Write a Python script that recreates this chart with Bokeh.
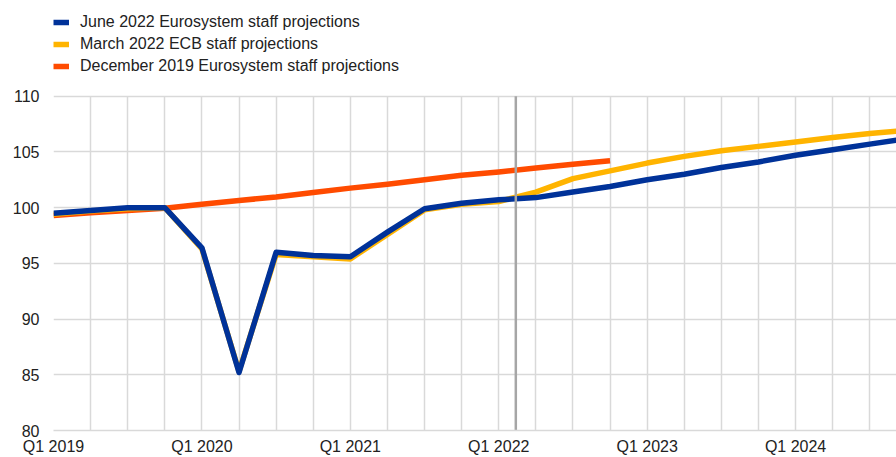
from bokeh.plotting import figure
from bokeh.models import Range1d, FixedTicker, Legend, LegendItem, BoxAnnotation
from bokeh.embed import file_html
from bokeh.resources import INLINE

quarters = [f"Q{q} {y}" for y in range(2019, 2025) for q in range(1, 5)]

june_2022 = [99.5, 99.75, 100.0, 100.0, 96.4, 85.2, 96.0, 95.7, 95.6, 97.8, 99.9, 100.4,
             100.7, 100.9, 101.4, 101.9, 102.5, 103.0, 103.6, 104.1, 104.7, 105.2, 105.7, 106.2]
march_2022 = [99.4, 99.7, 99.9, 100.0, 96.3, 85.3, 95.8, 95.6, 95.4, 97.6, 99.8, 100.3,
              100.55, 101.4, 102.6, 103.3, 104.0, 104.6, 105.1, 105.5, 105.9, 106.3, 106.65, 106.95]
dec_2019 = [99.3, 99.55, 99.75, 99.95, 100.3, 100.65, 100.95, 101.35, 101.75, 102.1, 102.5,
            102.9, 103.2, 103.55, 103.9, 104.2]

cutoff_x = 12.46
y_ticks = [80, 85, 90, 95, 100, 105, 110]

idx = list(range(len(quarters)))
label_ticks = [i for i, q in enumerate(quarters) if q.startswith("Q1")]

FONT = "Liberation Sans"
TXT = "#222222"
GRID = "#d9d9d9"

p = figure(width=896, height=457, output_backend="svg", toolbar_location=None,
           x_range=Range1d(0, 22.72), y_range=Range1d(80, 118.59),
           min_border_left=53, min_border_right=0, min_border_top=0, min_border_bottom=27)
p.outline_line_color = None
p.background_fill_color = "white"

p.xaxis.ticker = FixedTicker(ticks=label_ticks)
p.xaxis.major_label_overrides = {i: quarters[i] for i in label_ticks}
p.xgrid.ticker = FixedTicker(ticks=idx)
p.ygrid.ticker = FixedTicker(ticks=y_ticks)
p.yaxis.ticker = FixedTicker(ticks=y_ticks)

for ax in (p.xaxis[0], p.yaxis[0]):
    ax.major_tick_line_color = None
    ax.minor_tick_line_color = None
    ax.major_tick_out = 0
    ax.major_tick_in = 0
    ax.major_label_text_font = FONT
    ax.major_label_text_font_size = "16px"
    ax.major_label_text_color = TXT
p.xaxis.axis_line_color = GRID
p.xaxis.axis_line_width = 1.5
p.yaxis.axis_line_color = None
p.xaxis.major_label_standoff = 7
p.yaxis.major_label_standoff = 14

p.xgrid.grid_line_color = GRID
p.ygrid.grid_line_color = GRID
p.xgrid.grid_line_width = 1.5
p.ygrid.grid_line_width = 1.5
try:
    p.xgrid.cross_bounds = (y_ticks[0], y_ticks[-1])
except Exception:
    p.add_layout(BoxAnnotation(bottom=110.08, fill_color="white", fill_alpha=1,
                               line_color=None, level="underlay"))

r_dec = p.line(idx[:len(dec_2019)], dec_2019, line_color="#ff4b00", line_width=5.5,
               line_join="round")
r_mar = p.line(idx, march_2022, line_color="#ffb400", line_width=5.5, line_join="round")
r_jun = p.line(idx, june_2022, line_color="#003299", line_width=5.5, line_join="round")

# projection cut-off marker, spanning the value axis
p.segment(x0=[cutoff_x], y0=[y_ticks[0]], x1=[cutoff_x], y1=[y_ticks[-1]],
          line_color="#a6a6a6", line_width=2.5)

legend = Legend(items=[
    LegendItem(label="June 2022 Eurosystem staff projections", renderers=[r_jun]),
    LegendItem(label="March 2022 ECB staff projections", renderers=[r_mar]),
    LegendItem(label="December 2019 Eurosystem staff projections", renderers=[r_dec]),
], location=(0, 354), orientation="vertical", padding=0, margin=0, spacing=2,
    label_height=20, glyph_height=20, glyph_width=16, label_standoff=11,
    label_text_font=FONT, label_text_font_size="16px", label_text_color=TXT,
    border_line_color=None, background_fill_alpha=0)
p.add_layout(legend)

open("out.html", "w").write(file_html(p, INLINE))
